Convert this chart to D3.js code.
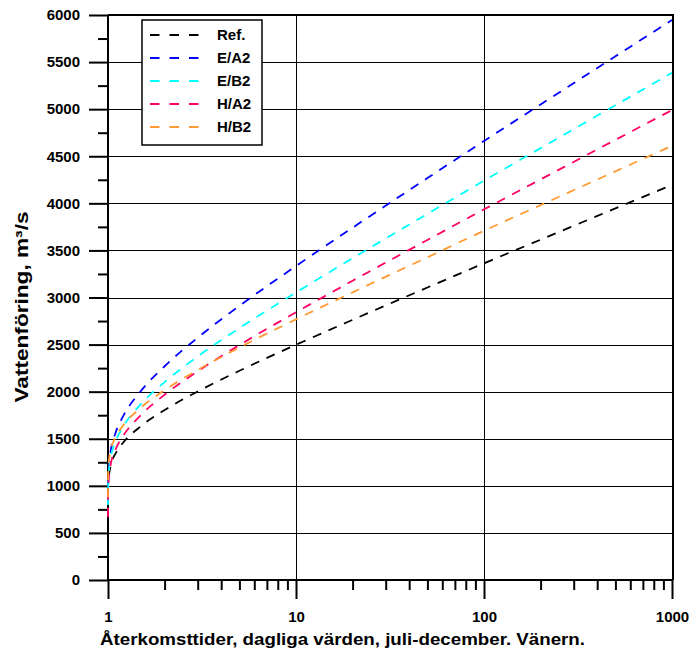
<!DOCTYPE html>
<html>
<head>
<meta charset="utf-8">
<script src="https://cdn.jsdelivr.net/npm/d3@7"></script>
<style>
    body { margin: 0; background: #fff; }
    svg { display: block; font-family: "Liberation Sans", Arial, sans-serif; }
</style>
</head>
<body>
<div id="chart"></div>
<script>
// return periods (years) and discharge values
var returnPeriods = [1.0001, 1.001, 1.01, 1.03, 1.1, 1.2, 1.5, 2, 3, 5, 10, 20, 50, 100, 200, 500, 1000];
var refValues = [null, null, 1107, 1205, 1348, 1455, 1635, 1805, 2002, 2222, 2498, 2763, 3106, 3363, 3614, 3946, 4196];
var ea2Values = [809, 971, 1199, 1349, 1569, 1734, 2010, 2270, 2573, 2911, 3334, 3741, 4268, 4662, 5050, 5561, 5947];
var eb2Values = [796, 941, 1145, 1279, 1475, 1623, 1870, 2102, 2373, 2675, 3053, 3417, 3888, 4240, 4586, 5042, 5387];
var ha2Values = [670, 898, 1086, 1210, 1390, 1526, 1753, 1968, 2217, 2495, 2843, 3178, 3611, 3936, 4254, 4674, 4990];
var hb2Values = [880, 1099, 1260, 1366, 1521, 1637, 1832, 2016, 2230, 2469, 2768, 3055, 3427, 3709, 3981, 4340, 4611];

var seriesNames = ["Ref.", "E/A2", "E/B2", "H/A2", "H/B2"];
var seriesColors = ["#000000", "#0000ff", "#00ffff", "#ff0066", "#ff9933"];
var seriesValues = [refValues, ea2Values, eb2Values, ha2Values, hb2Values];

var xMajorTicks = [1, 10, 100, 1000];
var xMinorTicks = [2, 3, 4, 5, 6, 7, 8, 9, 20, 30, 40, 50, 60, 70, 80, 90, 200, 300, 400, 500, 600, 700, 800, 900];
var yMajorTicks = d3.range(0, 6001, 500);
var yMinorTicks = d3.range(250, 6000, 500);

var xTitle = "Återkomsttider, dagliga värden, juli-december. Vänern.";
var yTitle = "Vattenföring, m³/s";

// plot area edges in pixels (window.top is reserved, so prefixed names)
var width = 692, height = 653;
var plotLeft = 108, plotRight = 673, plotTop = 15, plotBottom = 580;

var svg = d3.select("#chart").append("svg")
    .attr("width", width)
    .attr("height", height);

var x = d3.scaleLog().domain([1, 1000]).range([plotLeft, plotRight - 1]);
var y = d3.scaleLinear().domain([0, 6000]).range([plotBottom, plotTop]);

// grid lines
svg.append("g")
    .selectAll("line")
    .data(yMajorTicks.filter(function(d) { return d > 0 && d < 6000; }))
    .enter().append("line")
    .attr("x1", plotLeft).attr("x2", plotRight)
    .attr("y1", function(d) { return Math.round(y(d)) + 0.5; })
    .attr("y2", function(d) { return Math.round(y(d)) + 0.5; })
    .attr("stroke", "#000")
    .attr("stroke-width", 1);

svg.append("g")
    .selectAll("line")
    .data([10, 100])
    .enter().append("line")
    .attr("x1", function(d) { return Math.round(x(d)) + 0.5; })
    .attr("x2", function(d) { return Math.round(x(d)) + 0.5; })
    .attr("y1", plotTop).attr("y2", plotBottom)
    .attr("stroke", "#000")
    .attr("stroke-width", 1);

// frame top and right
svg.append("path")
    .attr("d", "M" + plotLeft + "," + plotTop + "H" + plotRight + "V" + plotBottom)
    .attr("fill", "none")
    .attr("stroke", "#000")
    .attr("stroke-width", 2);

// axes
var xAxisMajor = d3.axisBottom(x)
    .tickValues(xMajorTicks)
    .tickSize(19)
    .tickSizeOuter(0)
    .tickPadding(12)
    .tickFormat(d3.format("d"));
var xAxisMinor = d3.axisBottom(x)
    .tickValues(xMinorTicks)
    .tickSize(10)
    .tickSizeOuter(0)
    .tickFormat("");
var yAxisMajor = d3.axisLeft(y)
    .tickValues(yMajorTicks)
    .tickSize(19)
    .tickSizeOuter(0)
    .tickPadding(9)
    .tickFormat(d3.format("d"));
var yAxisMinor = d3.axisLeft(y)
    .tickValues(yMinorTicks)
    .tickSize(10)
    .tickSizeOuter(0)
    .tickFormat("");

function styleAxis(g) {
    g.select(".domain").remove();
    g.selectAll(".tick line").attr("stroke", "#000").attr("stroke-width", 2);
    g.selectAll(".tick text")
        .attr("fill", "#000")
        .attr("font-size", "15px")
        .attr("font-weight", "bold")
        .attr("font-family", "Liberation Sans, Arial, sans-serif");
}

svg.append("g").attr("transform", "translate(0," + plotBottom + ")").call(xAxisMajor).call(styleAxis);
svg.append("g").attr("transform", "translate(0," + plotBottom + ")").call(xAxisMinor).call(styleAxis);
svg.append("g").attr("transform", "translate(" + plotLeft + ",0)").call(yAxisMajor).call(styleAxis);
svg.append("g").attr("transform", "translate(" + plotLeft + ",0)").call(yAxisMinor).call(styleAxis);

// axis lines
svg.append("line")
    .attr("x1", plotLeft).attr("x2", plotLeft)
    .attr("y1", plotTop).attr("y2", plotBottom)
    .attr("stroke", "#000").attr("stroke-width", 2);
svg.append("line")
    .attr("x1", plotLeft).attr("x2", plotRight)
    .attr("y1", plotBottom).attr("y2", plotBottom)
    .attr("stroke", "#000").attr("stroke-width", 2);

// series
var line = d3.line()
    .defined(function(d) { return d[1] != null; })
    .x(function(d) { return x(d[0]); })
    .y(function(d) { return y(d[1]); })
    .curve(d3.curveMonotoneX);

seriesValues.forEach(function(values, i) {
    var points = returnPeriods.map(function(t, j) { return [t, values[j]]; });
    svg.append("path")
        .datum(points)
        .attr("d", line)
        .attr("fill", "none")
        .attr("stroke", seriesColors[i])
        .attr("stroke-width", 1.8)
        .attr("stroke-dasharray", "9,8");
});

// legend
var legend = svg.append("g");
legend.append("rect")
    .attr("x", 142).attr("y", 20)
    .attr("width", 120).attr("height", 125)
    .attr("fill", "#fff")
    .attr("stroke", "#000")
    .attr("stroke-width", 1.5);

seriesNames.forEach(function(name, i) {
    var ly = 35 + i * 23;
    legend.append("line")
        .attr("x1", 150).attr("x2", 199)
        .attr("y1", ly).attr("y2", ly)
        .attr("stroke", seriesColors[i])
        .attr("stroke-width", 1.8)
        .attr("stroke-dasharray", "9.5,10");
    legend.append("text")
        .attr("x", 217).attr("y", ly)
        .attr("dy", "0.35em")
        .attr("font-size", "15px")
        .attr("font-weight", "bold")
        .text(name);
});

// titles (the reference lettering is slightly stretched)
svg.append("text")
    .attr("x", 100).attr("y", 645)
    .attr("font-size", "17px")
    .attr("font-weight", "bold")
    .attr("textLength", 485)
    .attr("lengthAdjust", "spacingAndGlyphs")
    .text(xTitle);

svg.append("text")
    .attr("transform", "translate(28,307) rotate(-90)")
    .attr("text-anchor", "middle")
    .attr("font-size", "18px")
    .attr("font-weight", "bold")
    .attr("textLength", 191)
    .attr("lengthAdjust", "spacingAndGlyphs")
    .text(yTitle);
</script>
</body>
</html>
